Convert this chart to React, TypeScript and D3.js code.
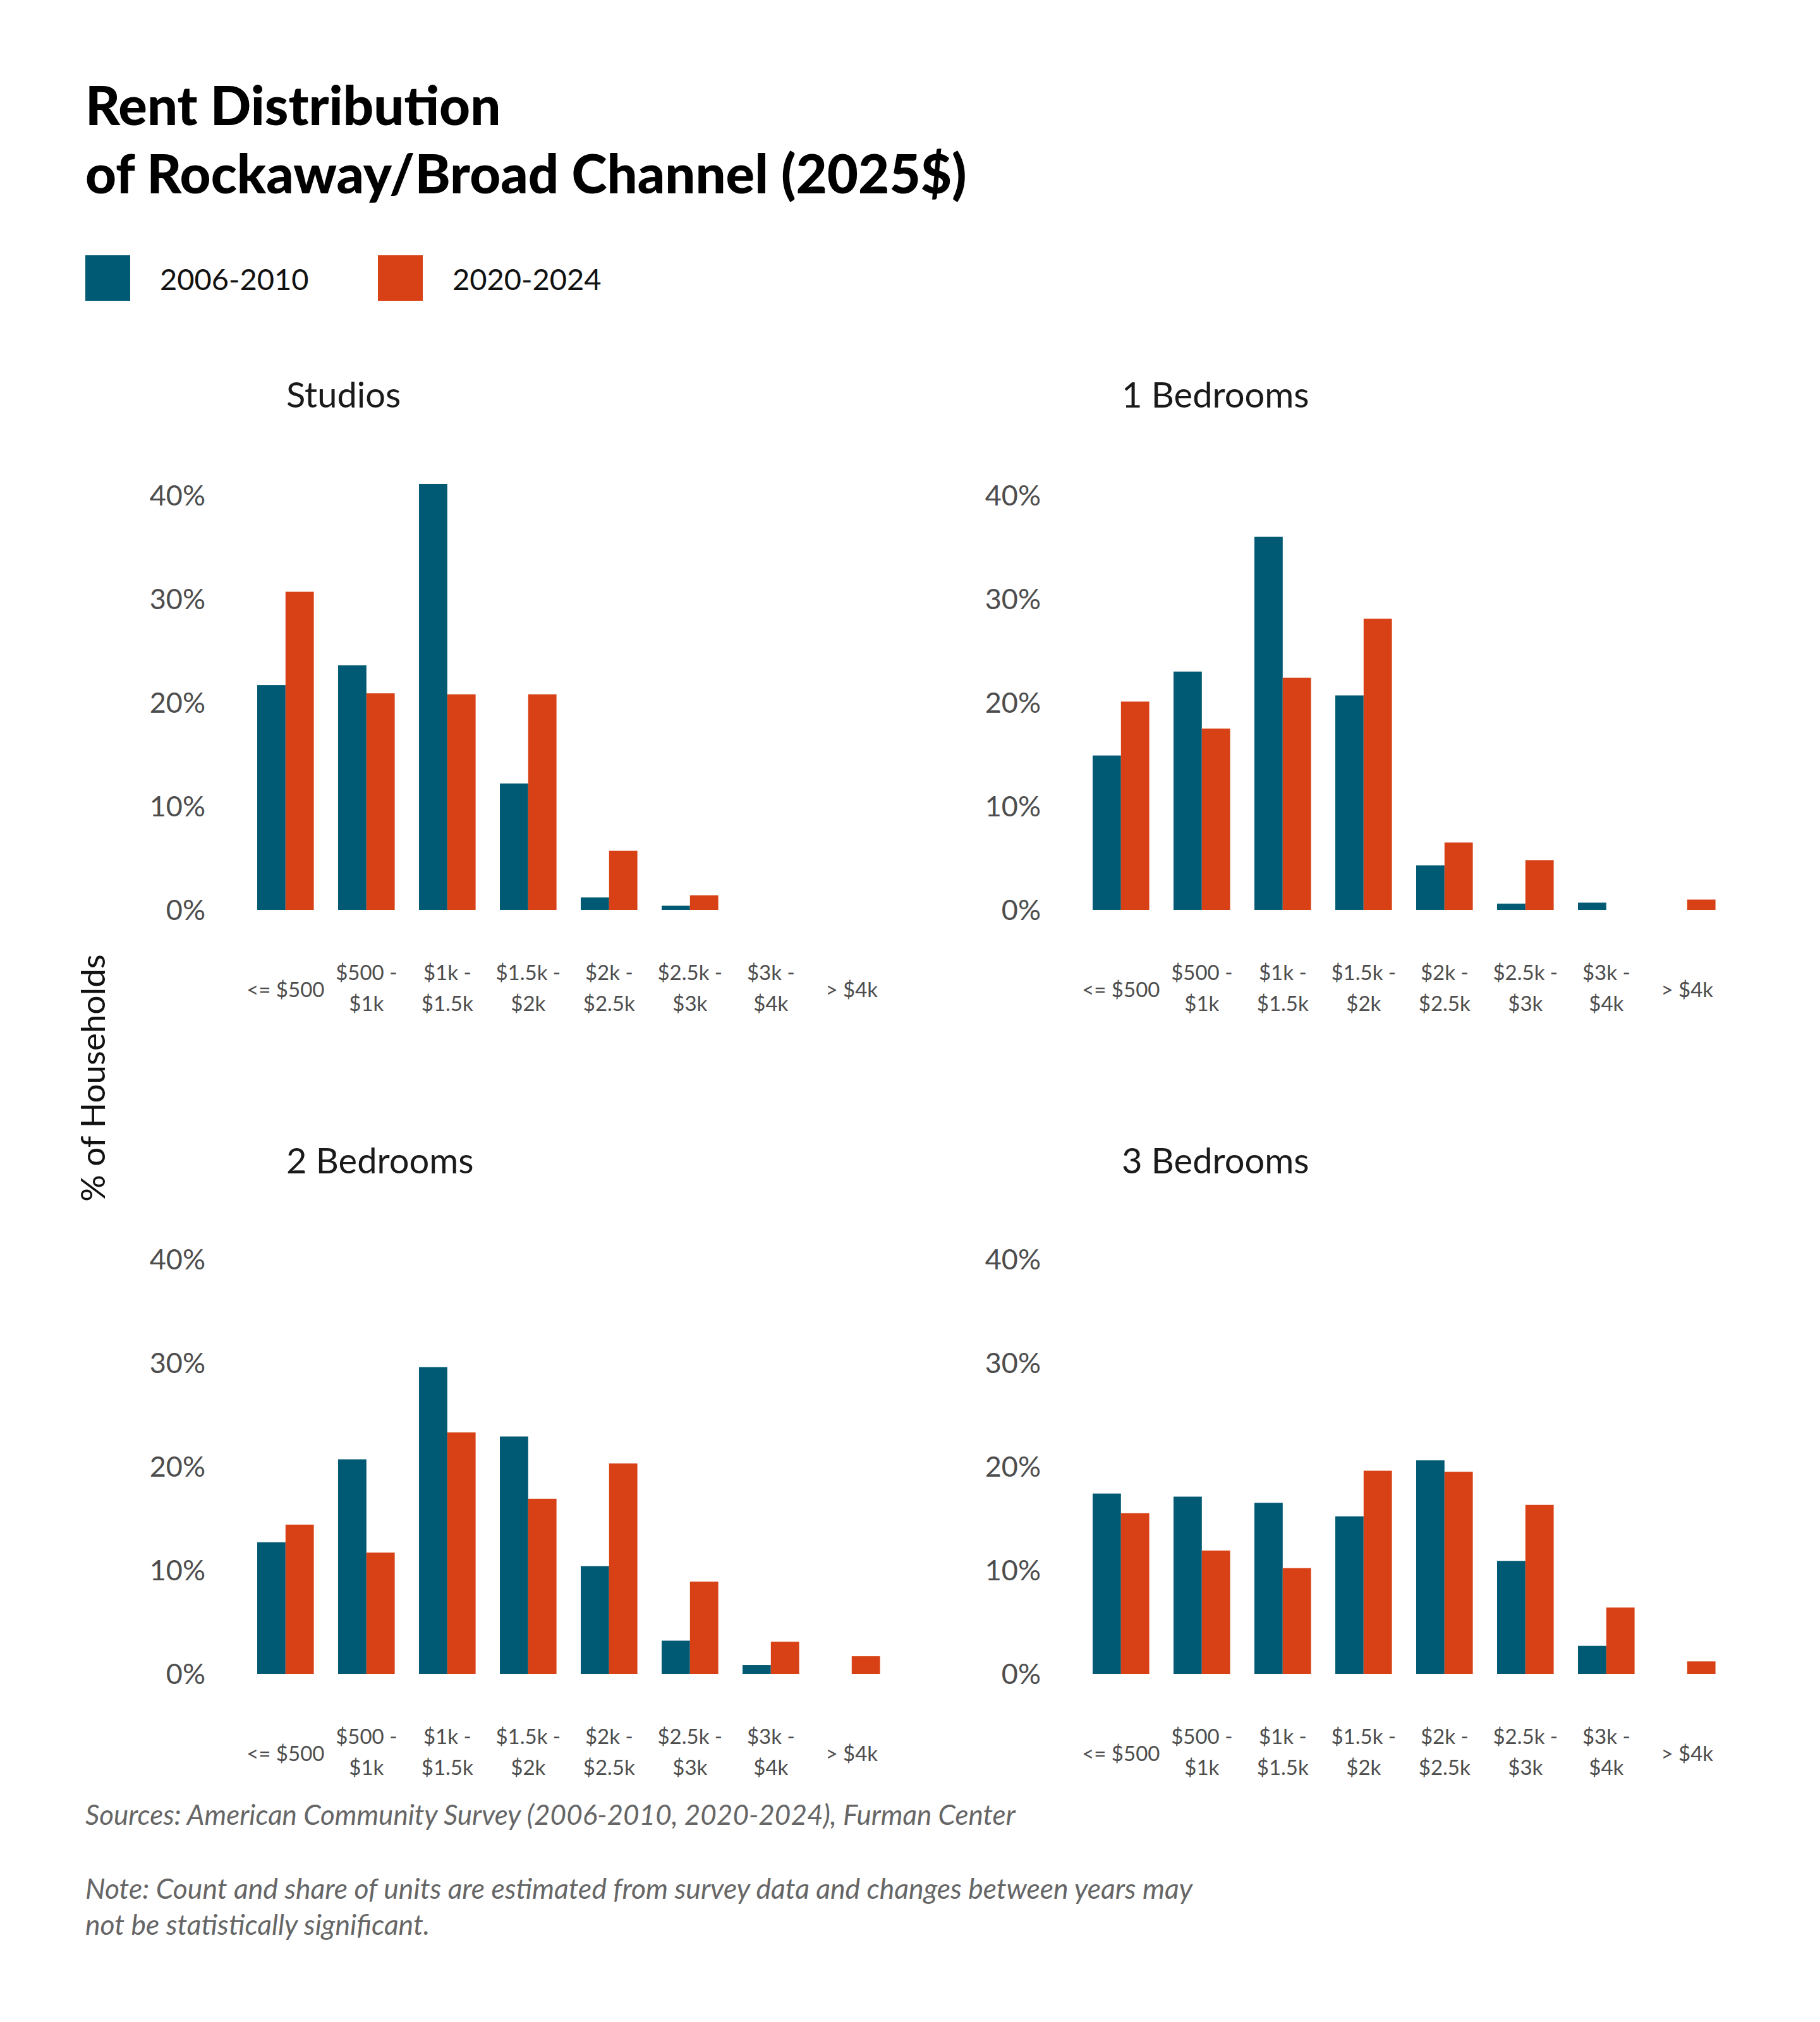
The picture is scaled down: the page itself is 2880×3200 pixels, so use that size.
import React from "react";
import * as d3 from "d3";

const categories = ["<= $500", "$500 - $1k", "$1k - $1.5k", "$1.5k - $2k", "$2k - $2.5k", "$2.5k - $3k", "$3k - $4k", "> $4k"];
const categoryLines = [["<= $500"], ["$500 -", "$1k"], ["$1k -", "$1.5k"], ["$1.5k -", "$2k"], ["$2k -", "$2.5k"], ["$2.5k -", "$3k"], ["$3k -", "$4k"], ["> $4k"]];
const seriesNames = ["2006-2010", "2020-2024"];
const seriesColors = ["#015a73", "#d84115"];
const panelTitles = ["Studios", "1 Bedrooms", "2 Bedrooms", "3 Bedrooms"];

const studios2006 = [21.7, 23.6, 41.1, 12.2, 1.2, 0.4, 0, 0];
const studios2020 = [30.7, 20.9, 20.8, 20.8, 5.7, 1.4, 0, 0];
const br1_2006 = [14.9, 23.0, 36.0, 20.7, 4.3, 0.6, 0.7, 0];
const br1_2020 = [20.1, 17.5, 22.4, 28.1, 6.5, 4.8, 0, 1.0];
const br2_2006 = [12.7, 20.7, 29.6, 22.9, 10.4, 3.2, 0.85, 0];
const br2_2020 = [14.4, 11.7, 23.3, 16.9, 20.3, 8.9, 3.1, 1.7];
const br3_2006 = [17.4, 17.1, 16.5, 15.2, 20.6, 10.9, 2.7, 0];
const br3_2020 = [15.5, 11.9, 10.2, 19.6, 19.5, 16.3, 6.4, 1.2];

const yTicks = [0, 10, 20, 30, 40];

const panelData = [
  [studios2006, studios2020],
  [br1_2006, br1_2020],
  [br2_2006, br2_2020],
  [br3_2006, br3_2020],
];

const W = 2880;
const H = 3200;
const FONT = "Lato, 'Open Sans', sans-serif";

function Panel({ idx }: { idx: number }) {
  const col = idx % 2;
  const row = Math.floor(idx / 2);
  const dx = col * 1322;
  const base = row === 0 ? 1440 : 2649;
  const top = base - 656;
  const x = d3
    .scaleBand<string>()
    .domain(categories)
    .range([387.8 + dx, 387.8 + dx + 1024])
    .paddingInner(0.3)
    .paddingOuter(0.15);
  const sub = d3.scaleBand<string>().domain(seriesNames).range([0, x.bandwidth()]);
  const y = d3.scaleLinear().domain([0, 40]).range([base, top]);
  const data = panelData[idx];
  return (
    <g>
      <text x={453 + dx} y={row === 0 ? 645 : 1857} fontSize={56} fill="#1a1a1a" fontFamily={FONT}>
        {panelTitles[idx]}
      </text>
      {yTicks.map((t) => (
        <text key={t} x={325 + dx} y={y(t)} dy="0.36em" textAnchor="end" fontSize={45} fill="#4d4d4d" fontFamily={FONT}>
          {t}%
        </text>
      ))}
      {categories.map((c, i) => (
        <g key={c}>
          {seriesNames.map((s, j) => {
            const v = data[j][i];
            if (v <= 0) return null;
            return (
              <rect
                key={s}
                x={(x(c) as number) + (sub(s) as number)}
                y={y(v)}
                width={sub.bandwidth()}
                height={y(0) - y(v)}
                fill={seriesColors[j]}
              />
            );
          })}
        </g>
      ))}
      {categories.map((c, i) => {
        const cx = (x(c) as number) + x.bandwidth() / 2;
        const lines = categoryLines[i];
        const startY = lines.length === 1 ? base + 138 : base + 111;
        return (
          <text key={c} x={cx} textAnchor="middle" fontSize={33} fill="#4d4d4d" fontFamily={FONT}>
            {lines.map((l, k) => (
              <tspan key={k} x={cx} y={startY + k * 49}>
                {l}
              </tspan>
            ))}
          </text>
        );
      })}
    </g>
  );
}

export default function App() {
  return (
    <svg width={W} height={H} style={{ position: "absolute", left: 0, top: 0, background: "#fff" }}>
      <rect x={0} y={0} width={W} height={H} fill="#fff" />
      <text x={135} y={198} fontSize={85} fontWeight={900} fill="#000" fontFamily={FONT}>
        Rent Distribution
      </text>
      <text x={135} y={306} fontSize={85} fontWeight={900} fill="#000" fontFamily={FONT}>
        of Rockaway/Broad Channel (2025$)
      </text>
      {seriesNames.map((s, i) => (
        <g key={s}>
          <rect x={135 + i * 463} y={404} width={71} height={72} fill={seriesColors[i]} />
          <text x={253 + i * 463} y={459} fontSize={47} fill="#111" fontFamily={FONT}>
            {s}
          </text>
        </g>
      ))}
      <text
        transform="translate(166,1706) rotate(-90)"
        textAnchor="middle"
        fontSize={53}
        fill="#111"
        fontFamily={FONT}
      >
        % of Households
      </text>
      {panelTitles.map((_, i) => (
        <Panel key={i} idx={i} />
      ))}
      <text x={135} y={2888} fontSize={44} fontStyle="italic" fill="#666" fontFamily={FONT}>
        Sources: American Community Survey (2006-2010, 2020-2024), Furman Center
      </text>
      <text x={135} y={3005} fontSize={44.5} fontStyle="italic" fill="#666" fontFamily={FONT}>
        Note: Count and share of units are estimated from survey data and changes between years may
      </text>
      <text x={135} y={3062} fontSize={44.5} fontStyle="italic" fill="#666" fontFamily={FONT}>
        not be statistically significant.
      </text>
    </svg>
  );
}
